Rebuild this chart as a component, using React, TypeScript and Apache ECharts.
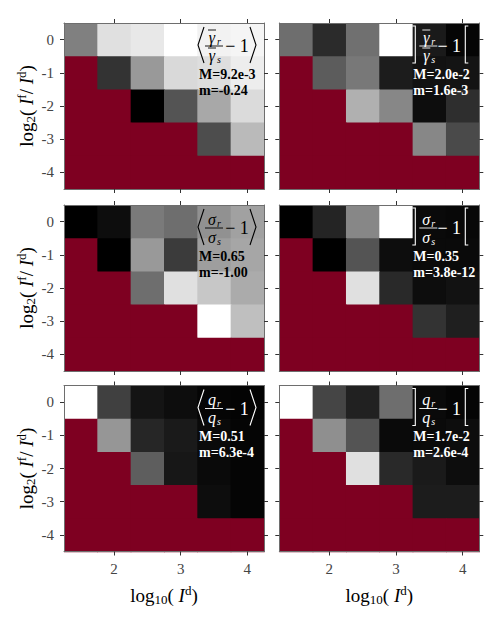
import React, { useEffect, useRef } from "react";
import * as echarts from "echarts";

// Cell centres
const X_CENTERS = [1.5, 2, 2.5, 3, 3.5, 4];
const Y_CENTERS = [0, -1, -2, -3, -4];
const X_TICKS = [2, 3, 4];
const Y_TICKS = [-4, -3, -2, -1, 0];

// Normalised grey level per cell (0 = black, 1 = white); null = undefined (red)
const GAMMA_MEAN = [
  [0.5, 0.88, 0.91, 1.0, 0.95, 0.96],
  [null, 0.2, 0.6, 0.85, 0.87, 0.93],
  [null, null, 0.0, 0.33, 0.66, 0.86],
  [null, null, null, null, 0.3, 0.73],
  [null, null, null, null, null, null],
];
const GAMMA_ABS = [
  [0.43, 0.17, 0.44, 1.0, 0.1, 0.02],
  [null, 0.36, 0.47, 0.11, 0.07, 0.08],
  [null, null, 0.69, 0.53, 0.05, 0.18],
  [null, null, null, null, 0.53, 0.29],
  [null, null, null, null, null, null],
];
const SIGMA_MEAN = [
  [0.0, 0.05, 0.48, 0.43, 0.57, 0.63],
  [null, 0.0, 0.6, 0.23, 0.62, 0.65],
  [null, null, 0.43, 0.88, 0.78, 0.67],
  [null, null, null, null, 1.0, 0.75],
  [null, null, null, null, null, null],
];
const SIGMA_ABS = [
  [0.0, 0.14, 0.53, 1.0, 0.04, 0.03],
  [null, 0.0, 0.33, 0.05, 0.04, 0.04],
  [null, null, 0.88, 0.16, 0.05, 0.07],
  [null, null, null, null, 0.2, 0.12],
  [null, null, null, null, null, null],
];
const Q_MEAN = [
  [1.0, 0.25, 0.08, 0.05, 0.02, 0.01],
  [null, 0.59, 0.15, 0.1, 0.04, 0.02],
  [null, null, 0.37, 0.09, 0.04, 0.02],
  [null, null, null, null, 0.05, 0.02],
  [null, null, null, null, null, null],
];
const Q_ABS = [
  [1.0, 0.27, 0.13, 0.43, 0.04, 0.02],
  [null, 0.56, 0.33, 0.04, 0.04, 0.05],
  [null, null, 0.88, 0.16, 0.1, 0.05],
  [null, null, null, null, 0.11, 0.11],
  [null, null, null, null, null, null],
];

const PANEL_MATRICES = [GAMMA_MEAN, GAMMA_ABS, SIGMA_MEAN, SIGMA_ABS, Q_MEAN, Q_ABS];
const PANEL_SYMBOLS = ["γ", "γ", "σ", "σ", "q", "q"];
const PANEL_BRACKETS = ["angle", "abs", "angle", "abs", "angle", "abs"];
const PANEL_M = ["M=9.2e-3", "M=2.0e-2", "M=0.65", "M=0.35", "M=0.51", "M=1.7e-2"];
const PANEL_MIN = ["m=-0.24", "m=1.6e-3", "m=-1.00", "m=3.8e-12", "m=6.3e-4", "m=2.6e-4"];
const PANEL_TEXT_COLOR = ["#000", "#fff", "#000", "#fff", "#fff", "#fff"];

const RED = "#7e0021";
const SERIF = "Liberation Serif";

const LEFTS = [64, 279.3];
const TOPS = [23, 205, 385.5];
const PW = 200;
const PH = 166;

function grey(v: number) {
  const g = Math.round(Math.max(0, Math.min(1, v)) * 255);
  return `rgb(${g},${g},${g})`;
}

function txt(text: string, x: number, y: number, color: string, extra: any, align = "left") {
  return {
    type: "text",
    x,
    y,
    z: 100,
    silent: true,
    style: {
      text,
      fill: color,
      fontFamily: SERIF,
      align,
      verticalAlign: "middle",
      textAlign: align,
      textVerticalAlign: "middle",
      ...extra,
    },
  };
}

function buildOption() {
  const grid: any[] = [];
  const xAxis: any[] = [];
  const yAxis: any[] = [];
  const series: any[] = [];
  const graphic: any[] = [];

  for (let i = 0; i < 6; i++) {
    const col = i % 2;
    const row = Math.floor(i / 2);
    const L = LEFTS[col];
    const T = TOPS[row];
    const R = L + PW;
    grid.push({ left: L, top: T, width: PW, height: PH });

    const lineStyle = { color: "#6e6e6e", width: 1 };
    const tickStyle = { color: "#333", width: 1 };
    const labelStyle = { color: "#444", fontFamily: SERIF, fontSize: 15 };
    for (const pos of ["bottom", "top"]) {
      xAxis.push({
        type: "value",
        gridIndex: i,
        position: pos,
        min: 1.25,
        max: 4.25,
        z: 10,
        axisLine: { show: true, onZero: false, lineStyle },
        axisTick: { show: true, length: 4, customValues: X_TICKS, lineStyle: tickStyle },
        axisLabel: {
          show: pos === "bottom" && row === 2,
          customValues: X_TICKS,
          margin: 10,
          ...labelStyle,
        },
        splitLine: { show: false },
      });
    }
    for (const pos of ["left", "right"]) {
      yAxis.push({
        type: "value",
        gridIndex: i,
        position: pos,
        min: -4.5,
        max: 0.5,
        z: 10,
        axisLine: { show: true, onZero: false, lineStyle },
        axisTick: { show: true, length: 4, customValues: Y_TICKS, lineStyle: tickStyle },
        axisLabel: {
          show: pos === "left" && col === 0,
          customValues: Y_TICKS,
          margin: 10,
          ...labelStyle,
        },
        splitLine: { show: false },
      });
    }

    const mat = PANEL_MATRICES[i];
    const data: any[] = [];
    Y_CENTERS.forEach((y, r) => {
      X_CENTERS.forEach((x, c) => {
        const v = mat[r][c];
        data.push([x, y, v === null ? 0 : v, v === null ? 1 : 0]);
      });
    });
    series.push({
      type: "custom",
      xAxisIndex: 2 * i,
      yAxisIndex: 2 * i,
      z: 2,
      silent: true,
      data,
      renderItem: (params: any, api: any) => {
        const x = api.value(0);
        const y = api.value(1);
        const v = api.value(2);
        const missing = api.value(3) === 1;
        const p0 = api.coord([x - 0.25, y + 0.5]);
        const p1 = api.coord([x + 0.25, y - 0.5]);
        return {
          type: "rect",
          shape: { x: p0[0], y: p0[1], width: p1[0] - p0[0] + 0.7, height: p1[1] - p0[1] + 0.7 },
          style: { fill: missing ? RED : grey(v) },
        };
      },
    });

    // annotation
    const color = PANEL_TEXT_COLOR[i];
    const sym = PANEL_SYMBOLS[i];
    const isAngle = PANEL_BRACKETS[i] === "angle";
    const cx = isAngle ? R - 50 : R - 51;
    const addSym = (yc: number, sub: string) => {
      graphic.push(txt(sym, cx - 2, yc, color, { fontSize: 16, fontStyle: "italic" }, "center"));
      graphic.push(txt(sub, cx + 3, yc + 4, color, { fontSize: 10, fontStyle: "italic" }, "left"));
      if (sym === "γ") {
        graphic.push({
          type: "line",
          z: 100,
          shape: { x1: cx - 6, y1: yc - 7, x2: cx + 2, y2: yc - 7 },
          style: { stroke: color, lineWidth: 0.9 },
        });
      }
    };
    addSym(T + 14, "r");
    addSym(T + 32, "s");
    graphic.push({
      type: "line",
      z: 100,
      shape: { x1: cx - 9, y1: T + 23, x2: cx + 9, y2: T + 23 },
      style: { stroke: color, lineWidth: 0.9 },
    });
    graphic.push(txt("− 1", isAngle ? R - 27 : R - 30, T + 23, color, { fontSize: 18 }, "center"));
    const bStyle = { stroke: color, lineWidth: 1.1, fill: null };
    if (isAngle) {
      graphic.push({
        type: "polyline",
        z: 100,
        shape: { points: [[R - 60, T + 4], [R - 66, T + 22], [R - 60, T + 40]] },
        style: bStyle,
      });
      graphic.push({
        type: "polyline",
        z: 100,
        shape: { points: [[R - 14, T + 4], [R - 8, T + 22], [R - 14, T + 40]] },
        style: bStyle,
      });
    } else {
      graphic.push({
        type: "polyline",
        z: 100,
        shape: { points: [[R - 67, T + 3], [R - 64, T + 3], [R - 64, T + 40], [R - 67, T + 40]] },
        style: bStyle,
      });
      graphic.push({
        type: "polyline",
        z: 100,
        shape: { points: [[R - 11, T + 3], [R - 14, T + 3], [R - 14, T + 40], [R - 11, T + 40]] },
        style: bStyle,
      });
    }
    const tx = isAngle ? R - 65 : R - 66;
    graphic.push(txt(PANEL_M[i], tx, T + 51, color, { fontSize: 14, fontWeight: "bold" }));
    graphic.push(txt(PANEL_MIN[i], tx, T + 67, color, { fontSize: 14, fontWeight: "bold" }));
  }

  const richBase = {
    n: { fontFamily: SERIF, fontSize: 19, lineHeight: 22, color: "#222" },
    i: { fontFamily: SERIF, fontSize: 19, lineHeight: 22, color: "#222", fontStyle: "italic" },
    sub: { fontFamily: SERIF, fontSize: 13, lineHeight: 10, color: "#222", verticalAlign: "bottom" },
    sup: { fontFamily: SERIF, fontSize: 13, lineHeight: 14, color: "#222", verticalAlign: "top" },
  };

  // y titles
  for (let row = 0; row < 3; row++) {
    graphic.push({
      type: "text",
      x: 26,
      y: TOPS[row] + PH / 2,
      rotation: Math.PI / 2,
      z: 100,
      style: {
        text: "{n|log}{sub|2}{n|( }{i|I}{sup|f}{n|/ }{i|I}{sup|d}{n|)}",
        rich: richBase,
        fontFamily: SERIF,
        align: "center",
        verticalAlign: "middle",
        textAlign: "center",
        textVerticalAlign: "middle",
      },
    });
  }
  // x titles
  for (let col = 0; col < 2; col++) {
    graphic.push({
      type: "text",
      x: LEFTS[col] + PW / 2,
      y: 595,
      z: 100,
      style: {
        text: "{n|log}{sub|10}{n|( }{i|I}{sup|d}{n|)}",
        rich: richBase,
        fontFamily: SERIF,
        align: "center",
        verticalAlign: "middle",
        textAlign: "center",
        textVerticalAlign: "middle",
      },
    });
  }

  return {
    animation: false,
    backgroundColor: "#fff",
    textStyle: { fontFamily: SERIF },
    grid,
    xAxis,
    yAxis,
    series,
    graphic: { elements: graphic },
  };
}

export default function App() {
  const ref = useRef<HTMLDivElement>(null);
  useEffect(() => {
    if (!ref.current) return;
    const chart = echarts.init(ref.current, undefined, { renderer: "svg" });
    chart.setOption(buildOption() as any);
    return () => chart.dispose();
  }, []);
  return (
    <div
      ref={ref}
      style={{ position: "fixed", left: 0, top: 0, width: 498, height: 618 }}
    />
  );
}
